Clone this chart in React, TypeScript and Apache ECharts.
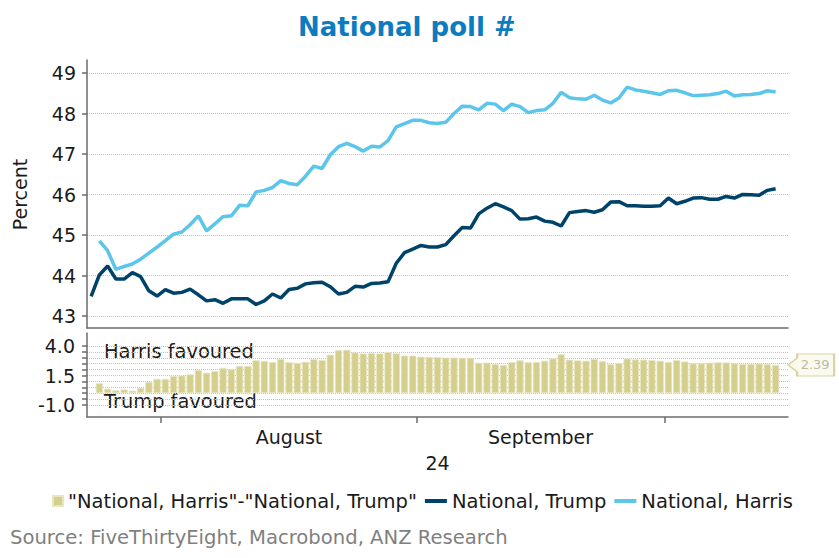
import React, { useEffect, useRef } from 'react';
import * as echarts from 'echarts';

// ---------- data ----------
function days(month: string, from: number, to: number): string[] {
  const out: string[] = [];
  for (let d = from; d <= to; d++) out.push(`2024-${month}-${d < 10 ? '0' + d : d}`);
  return out;
}
const dates: string[] = [
  ...days('07', 23, 31),
  ...days('08', 1, 31),
  ...days('09', 1, 30),
  ...days('10', 1, 15),
];
// boundary positions between days (for month ticks)
const boundaries: string[] = [...dates, '2024-10-16'];

const trump = [
  43.48, 44.01, 44.23, 43.91, 43.91, 44.07, 43.97, 43.62, 43.49, 43.65,
  43.56, 43.58, 43.66, 43.52, 43.37, 43.40, 43.31, 43.42, 43.42, 43.42,
  43.28, 43.37, 43.54, 43.44, 43.65, 43.68, 43.79, 43.82, 43.83, 43.72,
  43.54, 43.58, 43.73, 43.71, 43.80, 43.81, 43.84, 44.30, 44.56, 44.65,
  44.74, 44.70, 44.70, 44.76, 44.98, 45.18, 45.17, 45.52, 45.66, 45.77,
  45.69, 45.60, 45.39, 45.40, 45.44, 45.34, 45.31, 45.22, 45.55, 45.58,
  45.60, 45.56, 45.62, 45.81, 45.82, 45.72, 45.72, 45.71, 45.71, 45.72,
  45.91, 45.77, 45.83, 45.91, 45.92, 45.88, 45.88, 45.95, 45.91, 46.00,
  45.99, 45.98, 46.10, 46.14,
];

const harris = [
  null, 44.85, 44.61, 44.15, 44.22, 44.28, 44.40, 44.55, 44.70, 44.86,
  45.02, 45.07, 45.25, 45.47, 45.10, 45.27, 45.45, 45.47, 45.73, 45.72,
  46.06, 46.10, 46.17, 46.34, 46.27, 46.24, 46.45, 46.70, 46.64, 46.98,
  47.18, 47.26, 47.18, 47.07, 47.19, 47.17, 47.33, 47.67, 47.75, 47.83,
  47.83, 47.77, 47.75, 47.78, 48.00, 48.18, 48.17, 48.09, 48.25, 48.23,
  48.07, 48.23, 48.17, 48.02, 48.07, 48.09, 48.25, 48.52, 48.39, 48.36,
  48.35, 48.45, 48.33, 48.26, 48.38, 48.65, 48.58, 48.55, 48.51, 48.47,
  48.56, 48.57, 48.51, 48.44, 48.45, 48.46, 48.49, 48.55, 48.43, 48.46,
  48.47, 48.49, 48.56, 48.53,
];

const spread = [
  null, 0.84, 0.38, 0.24, 0.31, 0.21, 0.43, 0.93, 1.21, 1.21,
  1.46, 1.49, 1.59, 1.95, 1.73, 1.87, 2.14, 2.05, 2.31, 2.30,
  2.78, 2.73, 2.63, 2.90, 2.62, 2.56, 2.66, 2.88, 2.81, 3.26,
  3.64, 3.68, 3.45, 3.36, 3.39, 3.36, 3.49, 3.37, 3.19, 3.18,
  3.09, 3.07, 3.05, 3.02, 3.02, 3.00, 3.00, 2.57, 2.59, 2.46,
  2.38, 2.63, 2.78, 2.62, 2.63, 2.75, 2.94, 3.30, 2.84, 2.78,
  2.75, 2.89, 2.71, 2.45, 2.56, 2.93, 2.86, 2.84, 2.80, 2.75,
  2.65, 2.80, 2.68, 2.53, 2.53, 2.58, 2.61, 2.60, 2.52, 2.46,
  2.48, 2.51, 2.46, 2.39,
];

const monthLabels: Record<string, string> = {
  '2024-08-16': 'August',
  '2024-09-15': 'September',
};
const spreadTickLabels = [4.0, 1.5, -1.0];

const SPREAD_NAME = '"National, Harris"-"National, Trump"';
const TRUMP_NAME = 'National, Trump';
const HARRIS_NAME = 'National, Harris';

// ---------- styles ----------
const FONT = 'DejaVu Sans';
const TEXT = '#1a1a1a';
const AXIS = '#6b6b6b';
const GRIDLINE = '#b5c3d2';
const C_TRUMP = '#00436a';
const C_HARRIS = '#5bc5ea';
const C_BAR = '#d4cf8d';

const L = 87;
const W = 701;

export default function App() {
  const ref = useRef<HTMLDivElement>(null);

  useEffect(() => {
    if (!ref.current) return;
    const chart = echarts.init(ref.current, undefined, { renderer: 'svg' });
    const lastIdx = spread.length - 1;

    const hiddenX = (gridIndex: number) => ({
      type: 'category',
      gridIndex,
      data: dates,
      show: false,
    });

    const option: any = {
      animation: false,
      backgroundColor: '#ffffff',
      textStyle: { fontFamily: FONT },
      title: {
        text: 'National poll #',
        left: 298,
        top: 14,
        padding: 0,
        textStyle: { fontFamily: FONT, fontSize: 26, fontWeight: 'bold', color: '#0b7cc0' },
      },
      legend: {
        left: 40,
        top: 491,
        padding: 0,
        itemWidth: 22,
        itemHeight: 10,
        itemGap: 8,
        textStyle: { fontFamily: FONT, fontSize: 19.5, color: TEXT },
        data: [
          { name: SPREAD_NAME, icon: 'path://M0,0L0.01,0Z M12,0h10v10h-10Z' },
          { name: TRUMP_NAME, icon: 'path://M0,0h22v4h-22Z' },
          { name: HARRIS_NAME, icon: 'path://M0,0h22v4h-22Z' },
        ],
      },
      grid: [
        { left: L, width: W, top: 60, height: 268 }, // top data
        { left: L, width: W, top: 73, height: 243 }, // top ticks (43..49)
        { left: L, width: W, top: 333, height: 84 }, // lower data
        { left: L, width: W, top: 346, height: 59 }, // lower ticks (-1..4)
      ],
      xAxis: [
        {
          type: 'category',
          gridIndex: 0,
          position: 'bottom',
          data: dates,
          axisLine: { show: true, onZero: false, lineStyle: { color: AXIS, width: 1.5 } },
          axisTick: { show: false },
          axisLabel: { show: false },
          splitLine: { show: false },
        },
        hiddenX(1),
        {
          type: 'category',
          gridIndex: 2,
          position: 'bottom',
          data: dates,
          axisLine: { show: true, onZero: false, lineStyle: { color: AXIS, width: 1.5 } },
          axisTick: { show: false },
          axisLabel: {
            show: true,
            margin: 10,
            interval: (_i: number, v: string) => v in monthLabels,
            formatter: (v: string) =>
              v === '2024-09-15' ? `{s|${monthLabels[v]}}` : monthLabels[v] || '',
            color: TEXT,
            fontFamily: FONT,
            fontSize: 19,
            rich: { s: { fontFamily: FONT, fontSize: 19, color: TEXT, padding: [0, 0, 0, 8] } },
          },
          splitLine: { show: false },
          name: '24',
          nameLocation: 'middle',
          nameGap: 36,
          nameTextStyle: { fontFamily: FONT, fontSize: 19, color: TEXT },
        },
        hiddenX(3),
        {
          type: 'category',
          gridIndex: 2,
          position: 'bottom',
          boundaryGap: false,
          data: boundaries,
          axisLine: { show: false, onZero: false },
          axisTick: {
            show: true,
            length: 6,
            interval: (_i: number, v: string) => v.endsWith('-01'),
            lineStyle: { color: AXIS, width: 1.5 },
          },
          axisLabel: { show: false },
          splitLine: { show: false },
        },
      ],
      yAxis: [
        {
          type: 'value',
          gridIndex: 0,
          position: 'left',
          min: 42.7,
          max: 49.32,
          axisLine: { show: true, onZero: false, lineStyle: { color: AXIS, width: 1.5 } },
          axisTick: { show: false },
          axisLabel: { show: false },
          splitLine: { show: false },
        },
        {
          type: 'value',
          gridIndex: 1,
          position: 'left',
          min: 43,
          max: 49,
          interval: 1,
          axisLine: { show: false },
          axisTick: { show: true, length: 5, lineStyle: { color: AXIS, width: 1.5 } },
          axisLabel: { show: true, margin: 11, color: TEXT, fontFamily: FONT, fontSize: 19 },
          splitLine: { show: true, lineStyle: { color: GRIDLINE, type: 'dotted', width: 1 } },
          name: 'Percent',
          nameLocation: 'middle',
          nameGap: 58,
          nameTextStyle: { fontFamily: FONT, fontSize: 19, color: TEXT },
        },
        {
          type: 'value',
          gridIndex: 2,
          position: 'left',
          min: -2.02,
          max: 5.1,
          axisLine: { show: true, onZero: false, lineStyle: { color: AXIS, width: 1.5 } },
          axisTick: { show: false },
          axisLabel: { show: false },
          splitLine: { show: false },
        },
        {
          type: 'value',
          gridIndex: 3,
          position: 'left',
          min: -1,
          max: 4,
          interval: 0.5,
          axisLine: { show: false },
          axisTick: { show: true, length: 5, lineStyle: { color: AXIS, width: 1.5 } },
          axisLabel: {
            show: true,
            margin: 12,
            color: TEXT,
            fontFamily: FONT,
            fontSize: 19,
            formatter: (v: number) =>
              spreadTickLabels.some((t) => Math.abs(t - v) < 1e-6) ? v.toFixed(1) : '',
          },
          splitLine: { show: true, lineStyle: { color: GRIDLINE, type: 'dotted', width: 1 } },
        },
      ],
      series: [
        {
          name: SPREAD_NAME,
          type: 'bar',
          xAxisIndex: 2,
          yAxisIndex: 2,
          data: spread,
          clip: false,
          barCategoryGap: '12%',
          itemStyle: { color: C_BAR, borderColor: '#e8e5c3', borderWidth: 0.8 },
          markPoint: {
            silent: true,
            symbol: 'path://M0,11L9,4L9,0L46,0L46,22L9,22L9,18Z',
            symbolSize: [46, 22],
            symbolKeepAspect: false,
            symbolOffset: [35.5, 0],
            itemStyle: { color: '#fbfaf0', borderColor: '#d8d3a0', borderWidth: 1.5 },
            label: {
              show: true,
              position: 'inside',
              offset: [4, 0],
              color: '#bdbaa3',
              fontFamily: FONT,
              fontSize: 13,
              formatter: (p: any) => Number(p.value).toFixed(2),
            },
            data: [{ coord: [dates[lastIdx], spread[lastIdx]], value: spread[lastIdx] }],
          },
        },
        {
          name: TRUMP_NAME,
          type: 'line',
          xAxisIndex: 0,
          yAxisIndex: 0,
          data: trump,
          symbol: 'none',
          z: 3,
          lineStyle: { color: C_TRUMP, width: 3.5 },
          itemStyle: { color: C_TRUMP },
        },
        {
          name: HARRIS_NAME,
          type: 'line',
          xAxisIndex: 0,
          yAxisIndex: 0,
          data: harris,
          symbol: 'none',
          z: 3,
          lineStyle: { color: C_HARRIS, width: 3.5 },
          itemStyle: { color: C_HARRIS },
        },
      ],
      graphic: [
        {
          type: 'text',
          left: 104,
          top: 342,
          silent: true,
          style: { text: 'Harris favoured', font: `19.4px "${FONT}"`, fill: TEXT },
        },
        {
          type: 'text',
          left: 104,
          top: 392,
          silent: true,
          style: { text: 'Trump favoured', font: `19.4px "${FONT}"`, fill: TEXT },
        },
        {
          type: 'text',
          left: 10,
          top: 527,
          silent: true,
          style: {
            text: 'Source: FiveThirtyEight, Macrobond, ANZ Research',
            font: `19.6px "${FONT}"`,
            fill: '#7f7f7f',
          },
        },
      ],
    };

    chart.setOption(option);
    return () => chart.dispose();
  }, []);

  return (
    <div
      ref={ref}
      style={{ position: 'fixed', left: 0, top: 0, width: 839, height: 558, background: '#fff' }}
    />
  );
}
